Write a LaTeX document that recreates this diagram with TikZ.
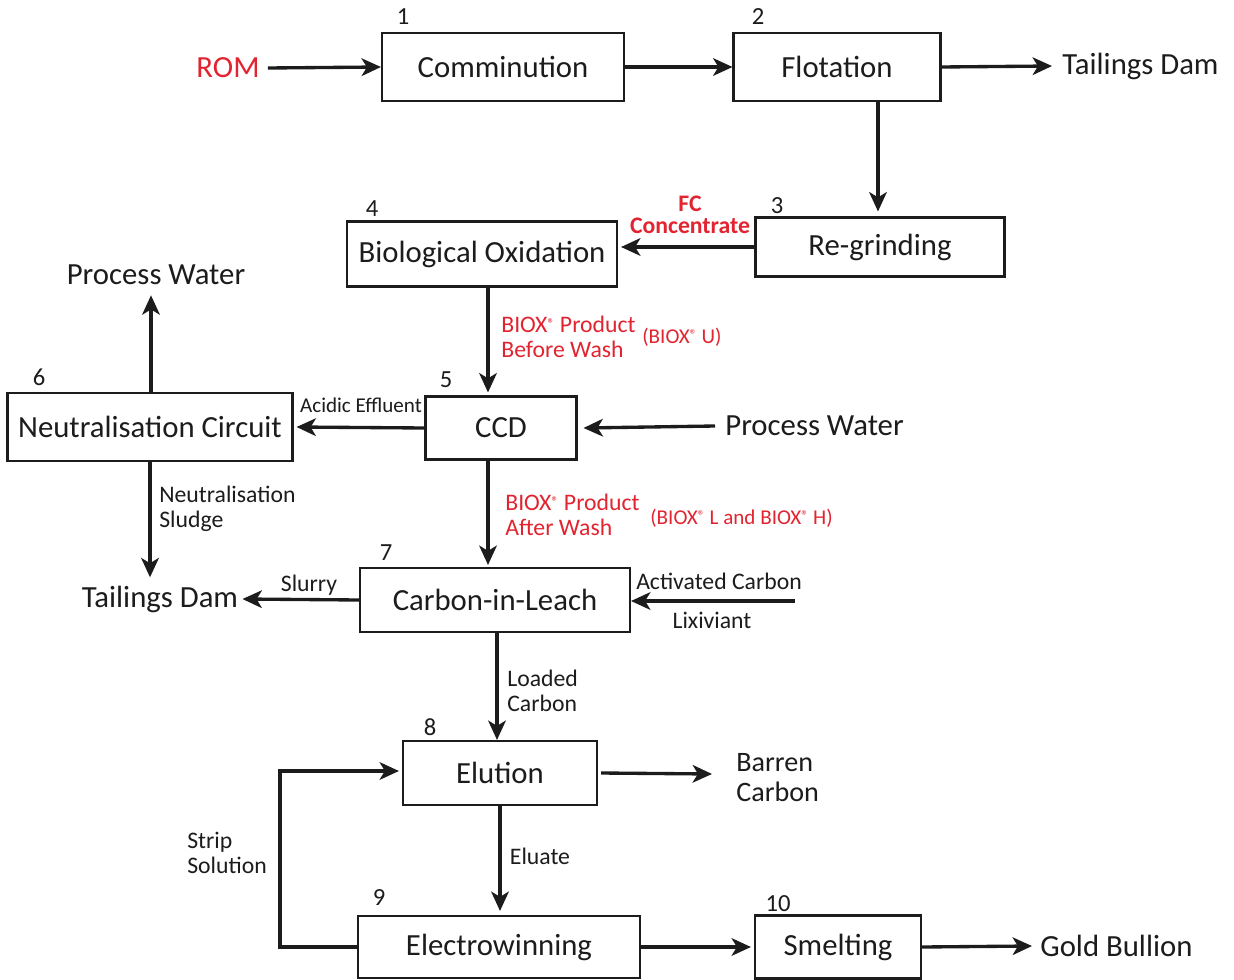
\documentclass[tikz,border=0pt]{standalone}
\usepackage{fontspec}
\setmainfont{Carlito}
\usetikzlibrary{arrows.meta,calc}
\definecolor{ink}{RGB}{28,28,28}
\definecolor{flowred}{RGB}{226,36,48}
\newcommand{\bigtxt}{\fontsize{17.5}{20}\selectfont}
\newcommand{\midtxt}{\fontsize{13.5}{15.5}\selectfont}
\newcommand{\smalltxt}{\fontsize{12}{14}\selectfont}
\newcommand{\numtxt}{\fontsize{14}{16}\selectfont}
\newcommand{\regmark}{{\fontsize{8}{8}\selectfont\raisebox{0.55ex}{®}}}
\begin{document}
\begin{tikzpicture}[x=0.02cm,y=-0.02cm,
  proc/.style={draw=ink, line width=1.2pt, inner sep=0pt, text=ink, font=\bigtxt, fill=white},
  plain/.style={inner sep=0pt, text=ink},
  lbl/.style={inner sep=0pt, text=ink, font=\midtxt, align=left},
  rlbl/.style={inner sep=0pt, text=flowred, font=\midtxt, align=left},
  num/.style={inner sep=0pt, text=ink, font=\numtxt},
  arr/.style={draw=ink, line width=1.9pt, -{Stealth[length=11pt,width=10pt,inset=3pt]}},
  line/.style={draw=ink, line width=1.9pt}]
\useasboundingbox (0,0) rectangle (1234,980);
\fill[white] (0,0) rectangle (1234,980);

% process units
\node[proc, minimum width=4.84cm, minimum height=1.36cm] (comm)  at (503,67)  {Comminution};
\node[proc, minimum width=4.14cm, minimum height=1.36cm] (flot)  at (837,67)  {Flotation};
\node[proc, minimum width=4.98cm, minimum height=1.18cm] (regr)  at (880,247) {Re-grinding};
\node[proc, minimum width=5.40cm, minimum height=1.30cm] (biox)  at (482,254) {Biological Oxidation};
\node[proc, minimum width=3.02cm, minimum height=1.26cm] (ccd)   at (501,428) {CCD};
\node[proc, minimum width=5.70cm, minimum height=1.36cm] (neut)  at (150,427) {Neutralisation Circuit};
\node[proc, minimum width=5.40cm, minimum height=1.28cm] (cil)   at (495,600) {Carbon-in-Leach};
\node[proc, minimum width=3.88cm, minimum height=1.28cm] (elu)   at (500,773) {Elution};
\node[proc, minimum width=5.64cm, minimum height=1.24cm] (ew)    at (499,947) {Electrowinning};
\node[proc, minimum width=3.32cm, minimum height=1.26cm] (smelt) at (838,947) {Smelting};

% unit numbers
\node[num] (n1)  at (403,17)  {1};
\node[num] (n2)  at (758,17)  {2};
\node[num] (n3)  at (777,206) {3};
\node[num] (n4)  at (372,209) {4};
\node[num] (n5)  at (446,380) {5};
\node[num] (n6)  at (39,377)  {6};
\node[num] (n7)  at (386,553) {7};
\node[num] (n8)  at (430,727) {8};
\node[num] (n9)  at (379,898) {9};
\node[num] (n10) at (778,904) {10};

% streams in and out
\node[plain, text=flowred, font=\bigtxt] (rom) at (228,68) {ROM};
\node[plain, font=\bigtxt, anchor=west] (tail1) at (1062,66) {Tailings Dam};
\node[plain, font=\bigtxt] (pw1) at (156,275) {Process Water};
\node[plain, font=\bigtxt, anchor=west] (pw2) at (725,426) {Process Water};
\node[plain, font=\bigtxt] (tail2) at (160,599) {Tailings Dam};
\node[plain, font=\fontsize{16}{18}\selectfont, align=left, anchor=west] (barren) at (736,778) {Barren\\[-1pt]Carbon};
\node[plain, font=\bigtxt, anchor=west] (gold) at (1040,946) {Gold Bullion};
\coordinate (acin) at (795,601);

% stream labels
\node[rlbl, font=\midtxt\bfseries, align=center] (fc) at (690,215) {FC\\[-3pt]Concentrate};
\node[rlbl, anchor=west] (bw) at (501,337) {BIOX\regmark{} Product\\[-1pt]Before Wash};
\node[rlbl, anchor=west, font=\smalltxt] (bu) at (642,337) {(BIOX\regmark{} U)};
\node[lbl, font=\smalltxt] (acid) at (361,405) {Acidic Effluent};
\node[rlbl, anchor=west] (aw) at (505,515) {BIOX\regmark{} Product\\[-1pt]After Wash};
\node[rlbl, anchor=west, font=\smalltxt] (blh) at (650,518) {(BIOX\regmark{} L and BIOX\regmark{} H)};
\node[lbl, anchor=west] (sludge) at (159,509) {Neutralisation\\[-1pt]Sludge};
\node[lbl] (slurry) at (309,585) {Slurry};
\node[lbl] (actc) at (719,581) {Activated Carbon};
\node[lbl] (lix) at (712,620) {Lixiviant};
\node[lbl, anchor=west] (loaded) at (507,691) {Loaded\\[-1pt]Carbon};
\node[lbl] (eluate) at (540,856) {Eluate};
\node[lbl, anchor=west] (strip) at (187,853) {Strip\\[-1pt]Solution};

% flow lines
\draw[arr] ($(rom.east)+(8,0)$) -- (comm.west);
\draw[arr] (comm.east) -- (flot.west);
\draw[arr] (flot.east) -- ($(tail1.west)+(-10,0)$);
\coordinate (f3) at ($(regr.north)+(-2,0)$);
\draw[arr] (f3 |- flot.south) -- ($(f3)+(0,-5)$);
\draw[arr] (regr.west) -- ($(regr.west -| biox.east)+(3,0)$);
\coordinate (b5) at ($(biox.south)+(6,0)$);
\draw[arr] (b5) -- ($(b5 |- ccd.north)+(0,-3)$);
\draw[arr] (ccd.west) -- ($(neut.east)+(3,0)$);
\draw[arr] ($(pw2.west)+(-10,0)$) -- ($(ccd.east)+(6,0)$);
\coordinate (n6a) at ($(neut.north)+(1,0)$);
\draw[arr] (n6a) -- ($(n6a |- pw1.south)+(0,10)$);
\draw[arr] (neut.south) -- ($(neut.south |- tail2.north)+(0,-8)$);
\coordinate (c7) at ($(ccd.south)+(-13,0)$);
\draw[arr] (c7) -- ($(c7 |- cil.north)+(0,-2)$);
\draw[arr] (acin) -- (acin -| cil.east);
\draw[arr] (cil.west) -- ($(tail2.east)+(4,0)$);
\coordinate (c8) at ($(cil.south)+(2,0)$);
\draw[arr] (c8) -- (c8 |- elu.north);
\draw[arr] ($(elu.east)+(3,0)$) -- ($(barren.west)+(-24,-4)$);
\draw[arr] (elu.south) -- ($(elu.south |- ew.north)+(0,-4)$);
\draw[arr] (ew.west) -- ++(-77,0) |- ($(elu.west)+(-3,-2)$);
\draw[arr] (ew.east) -- ($(smelt.west)+(-3,0)$);
\draw[arr] (smelt.east) -- ($(gold.west)+(-8,0)$);
\end{tikzpicture}
\end{document}
